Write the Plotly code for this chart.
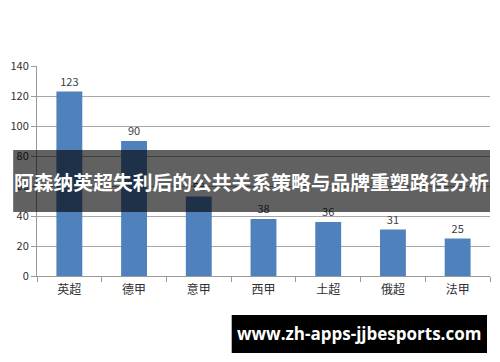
import plotly.graph_objects as go

categories = ["英超", "德甲", "意甲", "西甲", "土超", "俄超", "法甲"]
values = [123, 90, 53, 38, 36, 31, 25]
y_ticks = [0, 20, 40, 60, 80, 100, 120, 140]
title_text = "阿森纳英超失利后的公共关系策略与品牌重塑路径分析"
url_text = "www.zh-apps-jjbesports.com"

font_family = "Noto Sans CJK SC, Noto Sans, sans-serif"

fig = go.Figure(
    go.Bar(
        x=categories,
        y=values,
        marker=dict(color="#4f81bd", line=dict(width=0)),
        text=values,
        textposition="outside",
        textfont=dict(size=11, color="#404040", family=font_family),
        cliponaxis=False,
        width=0.4,
    )
)

fig.update_layout(
    width=500,
    height=362,
    margin=dict(l=34, r=10, t=66, b=86),
    paper_bgcolor="white",
    plot_bgcolor="white",
    showlegend=False,
    font=dict(family=font_family, size=11, color="#404040"),
    xaxis=dict(
        showline=True,
        linecolor="#9a9a9a",
        linewidth=1,
        ticks="outside",
        tickson="boundaries",
        ticklen=5,
        tickcolor="#9a9a9a",
        tickfont=dict(size=12, color="#303030"),
        ticklabelstandoff=3,
        showgrid=False,
    ),
    yaxis=dict(
        range=[0, 140],
        tickvals=y_ticks,
        showline=True,
        linecolor="#9a9a9a",
        linewidth=1,
        ticks="outside",
        ticklen=5,
        tickcolor="#9a9a9a",
        showgrid=True,
        gridcolor="#a6a6a6",
        gridwidth=1,
        zeroline=False,
        tickfont=dict(size=11, color="#303030"),
    ),
    shapes=[
        dict(type="rect", xref="paper", yref="paper",
             x0=-0.0526, x1=1.0, y0=0.3048, y1=0.6,
             fillcolor="rgba(0,0,0,0.62)", line=dict(width=0), layer="above"),
        dict(type="rect", xref="paper", yref="paper",
             x0=0.4298, x1=0.9934, y0=-0.3667, y1=-0.1857,
             fillcolor="black", line=dict(width=0), layer="above"),
    ],
    annotations=[
        dict(text="<b>" + title_text + "</b>", xref="paper", yref="paper",
             x=0.4737, y=0.452, showarrow=False, xanchor="center", yanchor="middle",
             font=dict(size=19.8, color="white", family=font_family)),
        dict(text="<b>" + url_text + "</b>", xref="paper", yref="paper",
             x=0.7105, y=-0.276, showarrow=False, xanchor="center", yanchor="middle",
             font=dict(size=17, color="white", family="Open Sans, DejaVu Sans, sans-serif")),
    ],
)

fig.write_html("out.html")
